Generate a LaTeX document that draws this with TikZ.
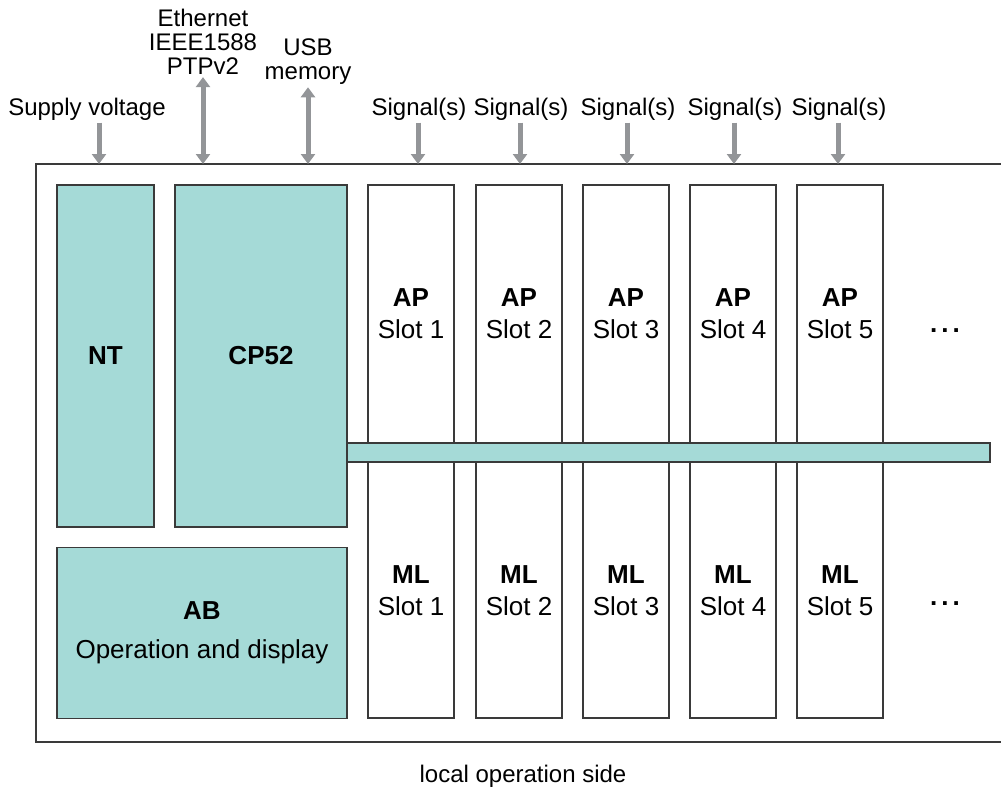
\documentclass[tikz,border=0pt]{standalone}
\usepackage{fontspec}
\setmainfont{Liberation Sans}
\usetikzlibrary{arrows.meta}

\definecolor{boxteal}{HTML}{A5DAD7}
\definecolor{boxline}{HTML}{3A3A3A}
\definecolor{arrowgray}{HTML}{939598}

\begin{document}
\begin{tikzpicture}[
  x=0.5pt, y=-0.5pt,
  frame/.style={draw=boxline, line width=0.6pt},
  module/.style={rectangle, draw=boxline, line width=0.7pt, fill=boxteal,
                 inner sep=0pt, align=center, font=\fontsize{13}{19.5}\selectfont},
  slotbox/.style={rectangle, draw=boxline, line width=0.7pt, fill=white,
                  inner sep=0pt, minimum width=43pt, minimum height=266.5pt},
  lbl/.style={inner sep=1pt, align=center, font=\fontsize{12}{12}\selectfont},
  slotlbl/.style={inner sep=0pt, align=center, font=\fontsize{13}{16}\selectfont},
  inarrow/.style={draw=arrowgray, line width=2.5pt, -{Triangle[width=7pt,length=5pt]}},
  ioarrow/.style={draw=arrowgray, line width=2.5pt,
                  {Triangle[width=7pt,length=5pt]}-{Triangle[width=7pt,length=5pt]}}
]
\useasboundingbox (0,0) rectangle (1001,787);

% Housing (open to the right)
\draw[frame] (1001,164) -- (36,164) -- (36,742) -- (1001,742);

% Power supply, controller, operating unit
\node[module, minimum width=48.5pt, minimum height=171pt] (nt) at (105.5,356) {\textbf{NT}};
\node[module, minimum width=86pt, minimum height=171pt] (cp) at (261,356) {\textbf{CP52}};
\node[module, minimum width=145pt, minimum height=85.5pt] (ab) at (202,633)
  {\textbf{AB}\\Operation and display};

% Slots
\foreach \i/\x in {1/411, 2/519, 3/626, 4/733, 5/840} {
  \node[slotbox] (slot\i) at (\x,451.5) {};
  \node[slotlbl] (ap\i) at (\x,314) {\textbf{AP}\\Slot \i};
  \node[slotlbl] (ml\i) at (\x,591) {\textbf{ML}\\Slot \i};
}
\node[slotlbl] (apmore) at (945,331) {\textbf{.\kern2pt.\kern2pt.}};
\node[slotlbl] (mlmore) at (945,604) {\textbf{.\kern2pt.\kern2pt.}};

% Backplane bus
\node[module, minimum width=321.5pt, minimum height=9.5pt] (bus) at (668.5,452.5) {};

% Inputs and interfaces
\node[lbl] (supply) at (87,109) {Supply voltage};
\node[lbl] (eth) at (203,42) {Ethernet\\IEEE1588\\PTPv2};
\node[lbl] (usb) at (308,62) {USB\\memory};
\coordinate (supplyin) at (99,164);
\coordinate (ethin) at (203,164);
\coordinate (usbin) at (308,164);
\draw[inarrow] (supply.south -| supplyin) -- (supplyin);
\draw[ioarrow] (eth.south) -- (ethin);
\draw[ioarrow] (usb.south) -- (usbin);

\foreach \i/\x in {1/418, 2/520, 3/627, 4/734, 5/838} {
  \node[lbl] (sig\i) at (\x+1,109) {Signal(s)};
  \coordinate (sigin\i) at (\x,164);
  \draw[inarrow] (sig\i.south -| sigin\i) -- (sigin\i);
}

\node[lbl] (side) at (523,776) {local operation side};

\end{tikzpicture}
\end{document}
